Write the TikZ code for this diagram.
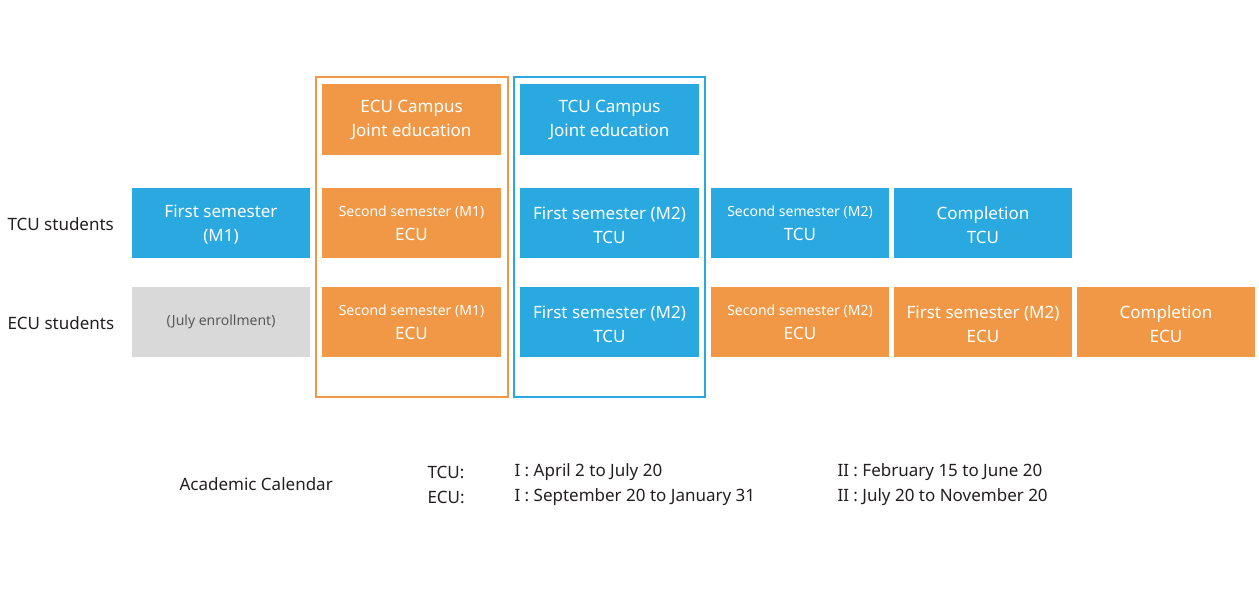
\documentclass[tikz,border=0pt]{standalone}
\usepackage{fontspec}
\setmainfont{Noto Sans}
\definecolor{ora}{HTML}{F09846}
\definecolor{blu}{HTML}{29A9E0}
\definecolor{gry}{HTML}{D9D9D9}
\definecolor{txt}{HTML}{231F20}
\begin{document}
\begin{tikzpicture}[x=1pt,y=-1pt,
  box/.style={inner sep=0,text=white,font=\bfseries\fontsize{17}{24}\selectfont,align=center},
  sbox/.style={box,font=\bfseries\fontsize{14}{24}\selectfont},
  lab/.style={anchor=west,text=txt,font=\bfseries\fontsize{17}{20}\selectfont}]
\useasboundingbox (0,0) rectangle (1259,594);
\newcommand{\bx}[6]{\fill[#5] (#1,#2) rectangle (#3,#4); \node[box] at ({(#1+#3)/2},{(#2+#4)/2}) {#6};}
% frames
\draw[ora,line width=2.2] (316,77) rectangle (508,397);
\draw[blu,line width=2.2] (514,77) rectangle (705,397);
% headers
\fill[ora] (322,84) rectangle (501,155); \node[box] (h1) at (411.5,119.5) {ECU Campus\\Joint education};
\fill[blu] (520,84) rectangle (699,155); \node[box] (h2) at (609.5,119.5) {TCU Campus\\Joint education};
% TCU row
\fill[blu] (132,188) rectangle (310,258); \node[box] (t1) at (221,225) {First semester\\(M1)};
\fill[ora] (322,188) rectangle (501,258); \node[box] (t2) at (411.5,223) {{\fontsize{14}{14}\selectfont Second semester (M1)}\\ECU};
\fill[blu] (520,188) rectangle (699,258); \node[box] (t3) at (609.5,225) {First semester (M2)\\TCU};
\fill[blu] (711,188) rectangle (889,258); \node[box] (t4) at (800,223) {{\fontsize{14}{14}\selectfont Second semester (M2)}\\TCU};
\fill[blu] (894,188) rectangle (1072,258); \node[box] (t5) at (983,225) {Completion\\TCU};
% ECU row
\fill[gry] (132,287) rectangle (310,357); \node[box,text=txt!75,font=\bfseries\fontsize{14}{16}\selectfont] (e1) at (221,322) {(July enrollment)};
\fill[ora] (322,287) rectangle (501,357); \node[box] (e2) at (411.5,322) {{\fontsize{14}{14}\selectfont Second semester (M1)}\\ECU};
\fill[blu] (520,287) rectangle (699,357); \node[box] (e3) at (609.5,324) {First semester (M2)\\TCU};
\fill[ora] (711,287) rectangle (889,357); \node[box] (e4) at (800,322) {{\fontsize{14}{14}\selectfont Second semester (M2)}\\ECU};
\fill[ora] (894,287) rectangle (1072,357); \node[box] (e5) at (983,324) {First semester (M2)\\ECU};
\fill[ora] (1077,287) rectangle (1255,357); \node[box] (e6) at (1166,324) {Completion\\ECU};
% row labels
\node[lab] (r1) at (4,224) {TCU students};
\node[lab] (r2) at (4,323) {ECU students};
% calendar
\node[lab] (ac) at (176,484) {Academic Calendar};
\node[lab] (c1) at (424,472) {TCU:};
\node[lab] (c2) at (424,497) {ECU:};
\node[lab] (c3) at (511,472) {I : April 2 to July 20};
\node[lab] (c4) at (511,497) {I : September 20 to January 31};
\node[lab] (c5) at (834,472) {II : February 15 to June 20};
\node[lab] (c6) at (834,497) {II : July 20 to November 20};
\end{tikzpicture}
\end{document}
